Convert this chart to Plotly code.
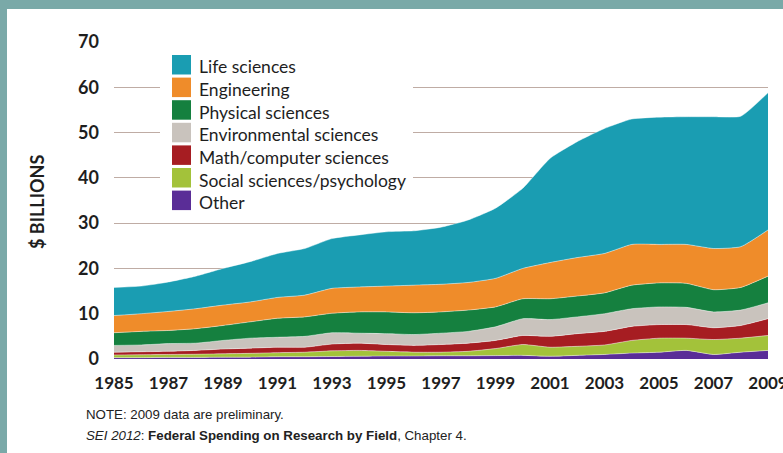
import plotly.graph_objects as go

# ---------------- data ($ billions) ----------------
years = list(range(1985, 2010))

other = [0.3, 0.3, 0.35, 0.35, 0.4, 0.4, 0.5, 0.5, 0.55, 0.6, 0.65, 0.65, 0.7,
         0.7, 0.75, 0.8, 0.6, 0.8, 1.0, 1.3, 1.5, 1.9, 1.0, 1.5, 1.9]
social = [0.6, 0.65, 0.65, 0.7, 0.75, 0.85, 0.9, 1.0, 1.25, 1.3, 1.05, 0.85, 0.8,
          1.0, 1.55, 2.4, 2.0, 2.0, 2.1, 2.8, 3.1, 2.7, 3.3, 3.1, 3.3]
math_cs = [0.6, 0.65, 0.7, 0.85, 1.05, 1.15, 1.2, 1.1, 1.5, 1.6, 1.5, 1.5, 1.7,
           1.8, 1.8, 2.0, 2.4, 2.8, 3.0, 3.1, 3.0, 3.0, 2.6, 2.8, 3.7]
environmental = [1.5, 1.5, 1.7, 1.6, 1.9, 2.2, 2.2, 2.4, 2.5, 2.2, 2.4, 2.4, 2.5,
                 2.6, 3.0, 3.7, 3.7, 3.7, 3.9, 3.9, 3.9, 3.8, 3.5, 3.4, 3.5]
physical = [2.8, 3.0, 2.9, 3.2, 3.3, 3.6, 4.2, 4.3, 4.3, 4.7, 4.8, 4.8, 4.7,
            4.7, 4.4, 4.4, 4.6, 4.6, 4.6, 5.2, 5.3, 5.3, 4.9, 5.0, 5.9]
engineering = [3.8, 3.9, 4.2, 4.4, 4.5, 4.4, 4.6, 4.8, 5.5, 5.5, 5.7, 6.1, 6.1,
               6.1, 6.3, 6.7, 8.0, 8.5, 8.7, 9.0, 8.5, 8.6, 9.1, 9.0, 10.2]
life = [6.2, 6.1, 6.5, 7.2, 8.1, 8.9, 9.7, 10.3, 11.0, 11.5, 12.0, 12.0, 12.6,
        13.8, 15.5, 17.7, 23.0, 25.6, 27.6, 27.7, 28.1, 28.2, 29.1, 28.8, 30.3]

# bottom -> top stacking order
series_names = ["Other", "Social sciences/psychology", "Math/computer sciences",
                "Environmental sciences", "Physical sciences", "Engineering",
                "Life sciences"]
series_values = [other, social, math_cs, environmental, physical, engineering, life]
series_colors = ["#5a2d97", "#a3c23a", "#a61d22", "#c9c3bd", "#15803f",
                 "#ef8c2a", "#1a9db2"]

y_ticks = [0, 10, 20, 30, 40, 50, 60, 70]
x_ticks = list(range(1985, 2010, 2))

# ---------------- geometry helpers ----------------
W, H = 783, 453
ML, MR, MT, MB = 114, 15, 42, 94
PW, PH = W - ML - MR, H - MT - MB


def px(x):
    return (x - ML) / PW


def py(y):
    return (H - MB - y) / PH


fig = go.Figure()

for name, vals, col in zip(series_names, series_values, series_colors):
    fig.add_trace(go.Scatter(
        x=years, y=vals, name=name, stackgroup="one", mode="lines",
        line=dict(width=0.8, color="rgba(255,255,255,0.55)", shape="spline", smoothing=0.5),
        fillcolor=col, showlegend=False, hoverinfo="x+y+name",
    ))

shapes = []
annotations = []

# teal frame / white panel
shapes.append(dict(type="rect", xref="paper", yref="paper", layer="below",
                   x0=px(7), x1=px(W + 5), y0=py(9), y1=py(H + 5),
                   fillcolor="white", line=dict(width=0)))

# legend box (white, covers gridlines)
shapes.append(dict(type="rect", xref="paper", yref="paper", layer="above",
                   x0=px(160), x1=px(413), y0=py(50), y1=py(217),
                   fillcolor="white", line=dict(width=0)))

legend_order = list(reversed(range(len(series_names))))
for i, idx in enumerate(legend_order):
    top = 55 + i * 22.6
    shapes.append(dict(type="rect", xref="paper", yref="paper", layer="above",
                       x0=px(172), x1=px(191), y0=py(top), y1=py(top + 19.5),
                       fillcolor=series_colors[idx], line=dict(width=0)))
    annotations.append(dict(xref="paper", yref="paper", x=px(197), y=py(top + 12),
                            text=series_names[idx], showarrow=False,
                            xanchor="left", yanchor="middle",
                            font=dict(family="Lato", size=17.5, color="#1e1e1e")))

# y-axis title
annotations.append(dict(xref="paper", yref="paper", x=px(37), y=py(202),
                        text="$ BILLIONS", showarrow=False, textangle=-90,
                        xanchor="center", yanchor="middle",
                        font=dict(family="Lato", size=18, color="#1e1e1e", weight="bold")))

# notes
annotations.append(dict(xref="paper", yref="paper", x=px(84), y=py(414),
                        text="NOTE: 2009 data are preliminary.", showarrow=False,
                        xanchor="left", yanchor="middle",
                        font=dict(family="Liberation Sans", size=13.3, color="#222")))
annotations.append(dict(xref="paper", yref="paper", x=px(84), y=py(435),
                        text="<i>SEI 2012</i>: <b>Federal Spending on Research by Field</b>, Chapter 4.",
                        showarrow=False, xanchor="left", yanchor="middle",
                        font=dict(family="Liberation Sans", size=13.3, color="#222")))

fig.update_layout(
    width=W, height=H, autosize=False,
    margin=dict(l=ML, r=MR, t=MT, b=MB, pad=0, autoexpand=False),
    paper_bgcolor="#7aa9a8",
    plot_bgcolor="white",
    showlegend=False,
    shapes=shapes,
    annotations=annotations,
    xaxis=dict(range=[1985, 2009], tickvals=x_ticks, ticktext=[str(t) for t in x_ticks],
               showgrid=False, zeroline=False, showline=False, ticks="",
               automargin=False, ticklabelstandoff=12, ticklabeloverflow="allow",
               tickfont=dict(family="Lato", size=17, color="#1e1e1e", weight="bold")),
    yaxis=dict(range=[0, 70], tickvals=y_ticks, showgrid=True, automargin=False,
               gridcolor="#bfaca4", gridwidth=1.3, zeroline=False, showline=False,
               ticks="", ticklabelstandoff=14,
               tickfont=dict(family="Lato", size=18, color="#1e1e1e", weight="bold")),
)

fig.write_html("out.html", config={"displayModeBar": False, "responsive": False},
               post_script="document.body.style.margin='0';document.body.style.padding='0';"
                           "document.body.style.overflow='hidden';")
